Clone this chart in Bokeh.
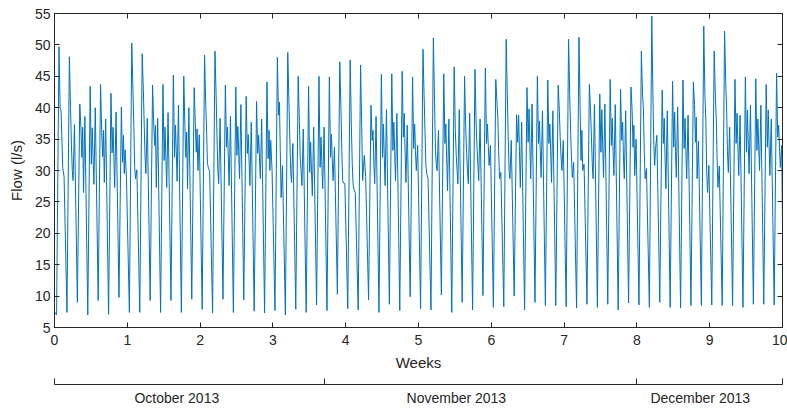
import numpy as np
from bokeh.plotting import figure
from bokeh.models import LinearAxis, FixedTicker, Range1d
from bokeh.embed import file_html
from bokeh.resources import INLINE

# ---- data: daily flow cycles (l/s), 70 days starting Sun 6 Oct 2013 ----
# time of day (fraction of day) of each daily reading
day_fraction = [0.20, 0.43, 0.54, 0.63, 0.71, 0.79, 0.92]

night_min = [7.0, 7.4, 9.0, 7.0, 9.3, 7.1, 9.8, 7.4, 7.4, 9.3,
             7.4, 9.3, 7.4, 9.5, 7.9, 7.3, 9.5, 7.4, 9.4, 7.6,
             7.3, 7.7, 7.0, 7.9, 7.4, 8.6, 7.7, 10.3, 8.0, 7.8,
             9.4, 7.4, 8.7, 7.7, 9.9, 8.0, 7.8, 10.2, 7.4, 9.0,
             7.8, 10.1, 8.2, 8.3, 10.0, 7.8, 9.0, 8.5, 8.5, 8.3,
             8.1, 8.7, 8.2, 8.7, 7.8, 8.9, 8.6, 8.2, 9.0, 8.2,
             8.1, 8.5, 8.5, 8.6, 8.5, 8.5, 8.2, 8.7, 8.7, 8.6]
morning_peak = [49.7, 48.1, 40.6, 43.4, 43.7, 42.3, 40.1, 50.3, 48.6, 43.6,
                43.7, 45.2, 45.0, 43.2, 48.4, 49.0, 43.6, 43.3, 41.8, 41.0,
                44.1, 48.0, 48.8, 45.0, 43.4, 45.0, 44.9, 47.3, 47.6, 46.8,
                40.4, 45.3, 45.4, 45.8, 44.9, 49.3, 51.1, 45.4, 46.5, 45.0,
                46.1, 46.3, 44.5, 50.9, 38.9, 43.2, 45.0, 44.4, 43.6, 50.9,
                51.2, 43.7, 42.2, 44.5, 42.9, 43.3, 49.0, 54.6, 42.8, 44.2,
                44.4, 44.1, 53.0, 49.0, 52.2, 44.5, 44.9, 44.6, 43.7, 45.5]
day_flow_1 = [40.0, 40.0, 36.9, 31.0, 36.1, 32.8, 31.3, 43.0, 43.0, 37.4,
              31.6, 32.1, 36.9, 37.4, 40.6, 42.0, 33.7, 32.4, 32.7, 32.7,
              31.9, 38.8, 41.0, 38.0, 29.7, 30.5, 32.1, 40.0, 37.4, 36.9,
              34.8, 32.1, 33.2, 35.3, 33.5, 41.7, 41.0, 34.3, 36.4, 36.9,
              37.4, 34.3, 41.0, 42.0, 34.5, 34.5, 34.3, 34.3, 39.6, 42.0,
              40.0, 39.6, 32.9, 34.0, 34.8, 39.6, 42.2, 42.0, 34.3, 33.7,
              33.5, 40.5, 42.0, 42.0, 44.0, 34.3, 32.9, 33.2, 33.7, 35.3]
day_flow_2 = [39.5, 34.0, 32.1, 36.8, 32.2, 36.9, 35.6, 37.0, 37.0, 34.0,
              36.9, 37.2, 32.1, 32.9, 36.0, 35.0, 36.9, 37.0, 35.7, 35.6,
              36.4, 40.9, 35.0, 31.9, 34.5, 35.3, 35.8, 33.0, 31.0, 28.4,
              36.4, 37.4, 37.7, 39.1, 37.4, 36.0, 33.2, 37.4, 32.4, 32.7,
              33.7, 37.4, 38.3, 35.0, 38.8, 39.8, 37.9, 37.4, 35.0, 36.0,
              31.6, 35.3, 39.7, 38.3, 37.7, 33.7, 39.6, 34.0, 38.3, 39.3,
              38.3, 34.5, 38.0, 38.3, 39.6, 39.1, 39.6, 38.2, 39.6, 37.2]
day_flow_3 = [35.0, 30.0, 36.9, 32.0, 36.4, 32.0, 29.5, 30.5, 32.0, 37.2,
              32.0, 33.0, 36.1, 36.6, 31.1, 30.0, 32.0, 33.0, 31.5, 32.0,
              30.0, 33.0, 30.0, 30.0, 30.0, 31.0, 31.5, 28.4, 27.9, 30.5,
              31.0, 32.0, 33.0, 33.0, 33.0, 30.8, 31.0, 32.0, 30.0, 30.0,
              31.0, 34.0, 33.0, 30.0, 33.0, 34.0, 33.0, 33.0, 32.0, 32.0,
              36.4, 31.0, 34.0, 33.0, 32.0, 37.2, 33.0, 30.8, 32.0, 33.0,
              33.0, 38.5, 30.0, 32.0, 33.0, 34.0, 34.0, 34.0, 34.0, 33.7]
day_flow_4 = [30.5, 28.4, 26.5, 27.8, 28.1, 27.3, 33.3, 28.7, 29.5, 27.3,
              27.3, 28.3, 27.1, 30.0, 30.5, 27.9, 27.6, 28.7, 27.6, 28.7,
              34.8, 25.7, 28.1, 27.6, 26.0, 27.1, 28.4, 28.0, 27.0, 32.4,
              27.9, 27.6, 28.4, 28.1, 30.0, 29.5, 30.0, 26.8, 27.9, 27.9,
              28.4, 30.8, 28.7, 28.7, 27.3, 28.7, 28.9, 28.1, 30.0, 28.9,
              30.0, 28.7, 28.9, 29.2, 28.7, 29.2, 28.7, 33.5, 27.1, 28.9,
              28.7, 28.7, 26.5, 27.3, 29.7, 29.2, 29.5, 30.0, 29.2, 30.5]
day_flow_5 = [29.0, 37.3, 38.6, 40.0, 38.2, 39.3, 28.9, 30.1, 38.3, 38.3,
              39.2, 40.4, 40.0, 35.7, 29.8, 38.3, 38.6, 40.5, 37.7, 38.2,
              30.0, 30.8, 34.3, 36.6, 36.9, 36.9, 33.7, 27.9, 26.5, 29.0,
              38.6, 39.7, 39.1, 37.2, 34.0, 28.7, 36.4, 38.2, 39.7, 39.1,
              38.2, 34.0, 29.7, 34.8, 37.7, 40.6, 39.5, 39.5, 34.8, 31.3,
              31.0, 40.5, 40.6, 40.5, 39.5, 35.0, 30.3, 35.6, 39.5, 40.1,
              38.8, 34.7, 30.8, 30.7, 36.9, 38.8, 40.4, 40.4, 38.2, 34.0]
start_flow = 7.5
end_flow = 21.5

x_ticks = [0, 1, 2, 3, 4, 5, 6, 7, 8, 9, 10]
y_ticks = [5, 10, 15, 20, 25, 30, 35, 40, 45, 50, 55]
month_names = ["October 2013", "November 2013", "December 2013"]
month_bounds_days = [0, 26, 56, 70]          # 1 Nov = day 26, 1 Dec = day 56
month_label_weeks = [1.68, 5.52, 8.87]

# ---- build series ----
daily = [night_min, morning_peak, day_flow_1, day_flow_2,
         day_flow_3, day_flow_4, day_flow_5]
t_weeks = [0.0]
flow = [start_flow]
for d in range(len(night_min)):
    for f, series in zip(day_fraction, daily):
        t_weeks.append((d + f) / 7.0)
        flow.append(series[d])
t_weeks.append(len(night_min) / 7.0)
flow.append(end_flow)

DARK = "#262626"
FONT = "Liberation Sans"

p = figure(width=787, height=408, output_backend="svg", toolbar_location=None,
           x_range=Range1d(0, 10), y_range=Range1d(5, 55),
           min_border_left=54, min_border_right=5, min_border_top=13,
           min_border_bottom=81)
p.background_fill_color = "white"
p.border_fill_color = "white"
p.outline_line_color = DARK
p.outline_line_width = 1
p.xgrid.visible = False
p.ygrid.visible = False

p.line(t_weeks, flow, line_color="#0072BD", line_width=1.0)

def style_axis(ax, font_size="14px"):
    ax.axis_line_color = DARK
    ax.major_tick_line_color = DARK
    ax.major_tick_in = 5
    ax.major_tick_out = 0
    ax.minor_tick_line_color = None
    ax.minor_tick_in = 0
    ax.minor_tick_out = 0
    ax.major_label_text_font = FONT
    ax.major_label_text_font_size = font_size
    ax.major_label_text_color = DARK
    ax.axis_label_text_font = FONT
    ax.axis_label_text_font_size = "15px"
    ax.axis_label_text_font_style = "normal"
    ax.axis_label_text_color = DARK

xa = p.xaxis[0]
xa.ticker = FixedTicker(ticks=x_ticks)
style_axis(xa)
xa.major_label_standoff = 7
xa.axis_label = "Weeks"
xa.axis_label_standoff = 6

ya = p.yaxis[0]
ya.ticker = FixedTicker(ticks=y_ticks)
style_axis(ya)
ya.major_label_standoff = 4
ya.axis_label = "Flow (l/s)"
ya.axis_label_standoff = 7

# box ticks on top and right (no labels)
for loc, ticks in (("above", x_ticks), ("right", y_ticks)):
    ax = LinearAxis(ticker=FixedTicker(ticks=ticks))
    style_axis(ax)
    ax.major_label_text_color = None
    ax.major_label_standoff = 0
    p.add_layout(ax, loc)

# invisible spacer between the week axis and the month axis
spacer = LinearAxis(ticker=FixedTicker(ticks=[5]))
spacer.axis_line_color = None
spacer.major_tick_line_color = None
spacer.minor_tick_line_color = None
spacer.major_tick_in = 0
spacer.major_tick_out = 11
spacer.minor_tick_in = 0
spacer.minor_tick_out = 0
spacer.major_label_text_color = None
spacer.major_label_standoff = 0
p.add_layout(spacer, "below")

# month axis
month_axis = LinearAxis(ticker=FixedTicker(ticks=month_label_weeks,
                                           minor_ticks=[d / 7.0 for d in month_bounds_days]))
month_axis.axis_line_color = DARK
month_axis.major_tick_line_color = None
month_axis.major_tick_in = 0
month_axis.major_tick_out = 0
month_axis.minor_tick_line_color = DARK
month_axis.minor_tick_in = 6
month_axis.minor_tick_out = 0
month_axis.major_label_overrides = {w: n for w, n in zip(month_label_weeks, month_names)}
month_axis.major_label_text_font = FONT
month_axis.major_label_text_font_size = "14px"
month_axis.major_label_text_color = DARK
month_axis.major_label_standoff = 5
p.add_layout(month_axis, "below")

open("out.html", "w").write(file_html(p, INLINE))
